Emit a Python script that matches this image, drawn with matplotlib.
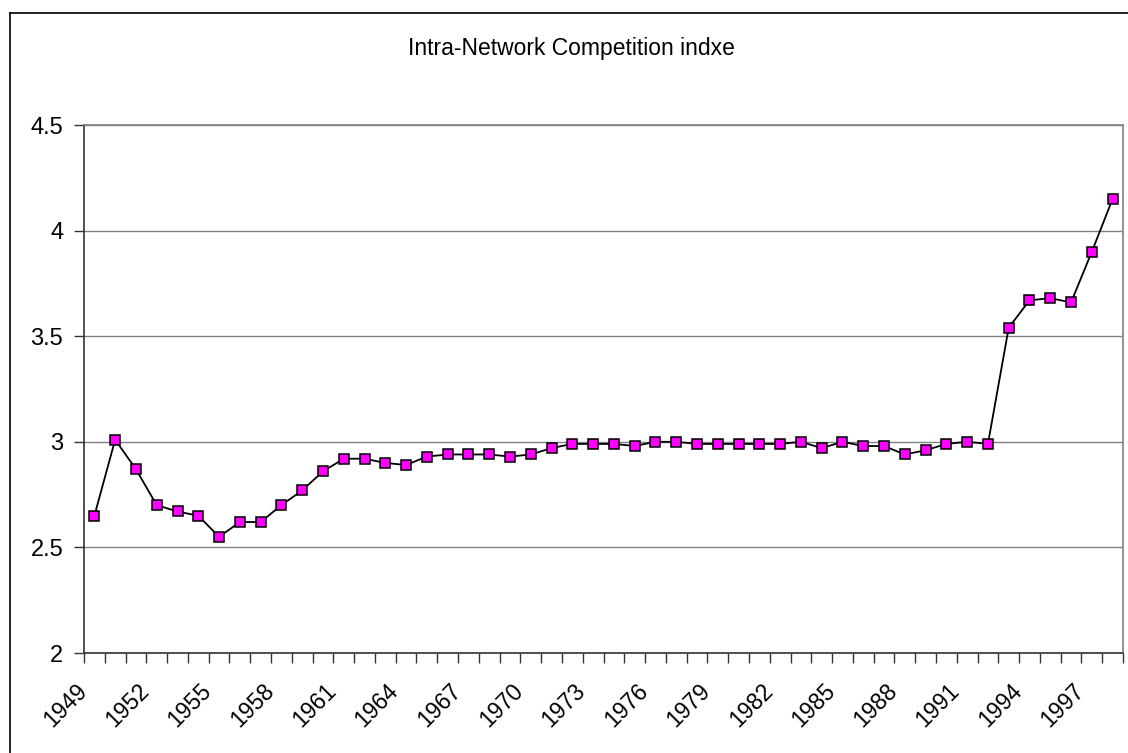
import numpy as np
import matplotlib.pyplot as plt
from matplotlib.lines import Line2D
from matplotlib.transforms import ScaledTranslation

plt.rcParams['font.family'] = ['Liberation Sans', 'DejaVu Sans']

# yearly index values, 1949-1998
years = list(range(1949, 1999))
index_values = [
    2.65, 3.01, 2.87, 2.70, 2.67, 2.65, 2.55, 2.62, 2.62, 2.70,
    2.77, 2.86, 2.92, 2.92, 2.90, 2.89, 2.93, 2.94, 2.94, 2.94,
    2.93, 2.94, 2.97, 2.99, 2.99, 2.99, 2.98, 3.00, 3.00, 2.99,
    2.99, 2.99, 2.99, 2.99, 3.00, 2.97, 3.00, 2.98, 2.98, 2.94,
    2.96, 2.99, 3.00, 2.99, 3.54, 3.67, 3.68, 3.66, 3.90, 4.15,
]
label_years = years[::3]
title = 'Intra-Network Competition indxe'

W, H = 1128, 753
fig = plt.figure(figsize=(W / 100, H / 100), dpi=100)

# plot area in pixel coords: left 84, right 1123, top 125, bottom 653
left, right, top, bottom = 84, 1123, 125, 653
ax = fig.add_axes([left / W, 1 - bottom / H, (right - left) / W, (bottom - top) / H])

x = np.arange(len(years))
ax.plot(x, index_values, color='black', lw=1.3, marker='s', ms=7.3,
        mfc='#FF00FF', mec='black', mew=1.1, zorder=3)

ax.set_xlim(-0.5, len(years) - 0.5)
ax.set_ylim(2, 4.5)
ax.set_yticks(np.arange(2, 4.51, 0.5))
ax.set_yticklabels(['2', '2.5', '3', '3.5', '4', '4.5'])
ax.yaxis.grid(True, color='#808080', lw=1.0)
ax.set_axisbelow(True)

# category boundaries get the tick marks, every third category gets a label
ax.set_xticks(np.arange(-0.5, len(years) + 0.5, 1.0))
ax.set_xticklabels([])
ax.set_xticks([years.index(y) for y in label_years], minor=True)
ax.set_xticklabels([str(y) for y in label_years], minor=True,
                   rotation=45, ha='right', va='center', rotation_mode='anchor')
ax.tick_params(axis='x', which='minor', length=0, pad=25, labelsize=16.5)
ax.tick_params(axis='x', which='major', length=7, width=1, color='#333333', direction='out')
ax.tick_params(axis='y', length=7, width=1, color='#333333', direction='out',
               labelsize=17, pad=8)

# nudge the slanted year labels a little to the left
shift = ScaledTranslation(-11 / 100, 0, fig.dpi_scale_trans)
for lbl in ax.get_xticklabels(minor=True):
    lbl.set_transform(lbl.get_transform() + shift)

for side in ['top', 'right']:
    ax.spines[side].set_color('#808080')
    ax.spines[side].set_linewidth(1.2)
for side in ['left', 'bottom']:
    ax.spines[side].set_color('#333333')
    ax.spines[side].set_linewidth(1.2)

fig.text(571 / W, 1 - 49 / H, title, ha='center', va='center', fontsize=16.5)

# chart frame
fig.add_artist(Line2D([10 / W, 10 / W], [0, 1 - 13 / H], color='black', lw=1.2))
fig.add_artist(Line2D([10 / W, 1], [1 - 13 / H, 1 - 13 / H], color='black', lw=1.2))

fig.savefig('out.png', dpi=100)
